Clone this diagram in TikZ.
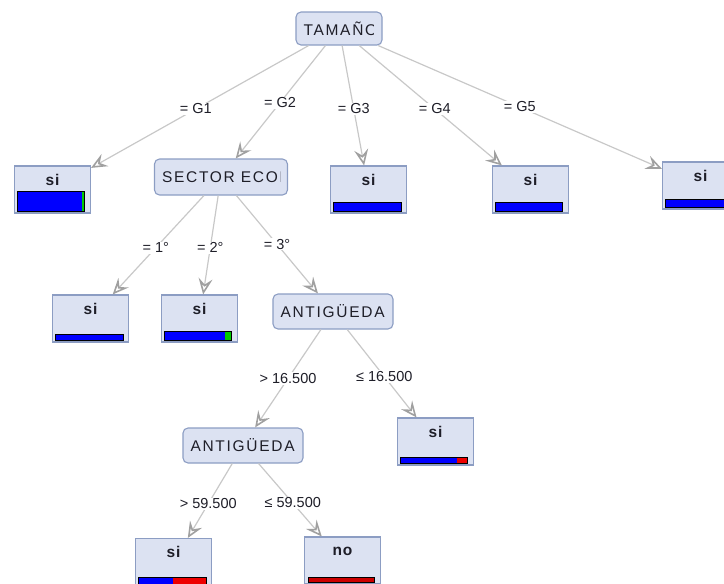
\documentclass[tikz,border=0pt]{standalone}
\usepackage{fontspec}
\setmainfont{Liberation Sans}
\newfontfamily\nfont[LetterSpace=11]{Liberation Sans}
\newfontfamily\lfont[LetterSpace=6]{Liberation Sans}
\usetikzlibrary{arrows.meta,calc}
\definecolor{boxfill}{HTML}{DCE2F2}
\definecolor{boxdraw}{HTML}{8C9DC3}
\definecolor{edgecol}{HTML}{C8C8C8}
\definecolor{arrowcol}{HTML}{A0A0A0}
\definecolor{textcol}{HTML}{1E1E28}
\definecolor{barblue}{HTML}{0000FF}
\definecolor{barred}{HTML}{EE0000}
\definecolor{bardred}{HTML}{CC0000}
\definecolor{bargreen}{HTML}{00CC00}
\newcommand\leafbar[4]{%
  \fill[barblue] ($(#1.south west)+(#2,-2)$) rectangle ($(#1.south west)+(#3,-2-#4)$);}
\newcommand\leafseg[5]{%
  \fill[#5] ($(#1.south west)+(#2,-2)$) rectangle ($(#1.south west)+(#3,-2-#4)$);}
\newcommand\leafframe[4]{%
  \draw[black, line width=0.9pt] ($(#1.south west)+(#2,-2)$) rectangle ($(#1.south west)+(#3,-2-#4)$);}
\begin{document}
\begin{tikzpicture}[x=1pt,y=-1pt,
  inner/.style n args={4}{draw=boxdraw, fill=boxfill, rounded corners=5pt, line width=1.1pt,
    minimum width=#1, minimum height=#2, inner sep=0pt,
    path picture={
      \clip ([xshift=-#4]path picture bounding box.north east) rectangle (path picture bounding box.south west);
      \node[anchor=west, inner sep=0pt, minimum width=0pt, minimum height=0pt, draw=none, fill=none,
        text=textcol, font=\nfont\fontsize{15.5}{17}\selectfont]
        at ([xshift=7pt]path picture bounding box.west) {#3};}},
  leaf/.style={draw=boxdraw, fill=boxfill, line width=1.1pt, minimum width=76pt, minimum height=47pt, inner sep=0pt},
  lt/.style={inner sep=0pt, text=textcol, font=\lfont\bfseries\fontsize{15.5}{17}\selectfont},
  edge/.style={draw=edgecol, line width=1.2pt,
    -{Stealth[open, length=16pt, width=14pt, inset=6pt, color=arrowcol, line width=1.6pt]}},
  lbl/.style={fill=white, inner sep=1pt, text=textcol, font=\fontsize{14.5}{16}\selectfont}]
\useasboundingbox (0,0) rectangle (724,584);
\clip (0,0) rectangle (724,584);

% inner nodes
\node[inner={86pt}{33pt}{TAMAÑO}{9pt}] (R) at (339,28.5) {};
\node[inner={133pt}{36pt}{SECTOR ECONOMICO}{7pt}] (S) at (221,177) {};
\node[inner={120pt}{35pt}{ANTIGÜEDA}{7pt}] (A1) at (333,311.5) {};
\node[inner={120pt}{35pt}{ANTIGÜEDA}{7pt}] (A2) at (243,445.5) {};

% leaves
\node[leaf] (L1) at (52.5,189.5) {};
\node[leaf] (L3) at (368.5,189.5) {};
\node[leaf] (L4) at (530.5,189.5) {};
\node[leaf] (L5) at (700.5,185.5) {};
\node[leaf] (M1) at (90.5,318.5) {};
\node[leaf] (M2) at (199.5,318.5) {};
\node[leaf] (N1) at (435.5,441.5) {};
\node[leaf] (P1) at (173.5,562) {};
\node[leaf] (P2) at (342.5,560.5) {};

% leaf texts
\foreach \n in {L1,L3,L4,L5,M1,M2,N1,P1} {\node[lt] at ($(\n.north)+(0,14.5)$) {si};}
\node[lt] at ($(P2.north)+(0,14.5)$) {no};

% bars
\leafbar{L1}{3}{70}{20}\leafseg{L1}{68}{70}{20}{bargreen}\leafframe{L1}{3}{70}{20}
\leafbar{L3}{3}{71}{9}\leafframe{L3}{3}{71}{9}
\leafbar{L4}{3}{70}{9}\leafframe{L4}{3}{70}{9}
\leafbar{L5}{3}{70}{8}\leafframe{L5}{3}{70}{8}
\leafbar{M1}{3}{71}{6}\leafframe{M1}{3}{71}{6}
\leafbar{M2}{3}{70}{9}\leafseg{M2}{64}{70}{9}{bargreen}\leafframe{M2}{3}{70}{9}
\leafbar{N1}{3}{70}{6}\leafseg{N1}{60}{70}{6}{barred}\leafframe{N1}{3}{70}{6}
\leafbar{P1}{3}{71}{7}\leafseg{P1}{38}{71}{7}{barred}\leafframe{P1}{3}{71}{7}
\leafseg{P2}{4}{70}{5}{bardred}\leafframe{P2}{4}{70}{5}

% edges
\foreach \a/\b in {R/L1,R/S,R/L3,R/L4,R/L5,S/M1,S/M2,S/A1,A1/A2,A1/N1,A2/P1,A2/P2}
  {\draw[edge] (\a) -- (\b);}

% labels
\path (R.center) -- (L1.center) node[lbl,pos=0.5] {= G1};
\path (R.center) -- (S.center) node[lbl,pos=0.5] {= G2};
\path (R.center) -- (L3.center) node[lbl,pos=0.5] {= G3};
\path (R.center) -- (L4.center) node[lbl,pos=0.5] {= G4};
\path (R.center) -- (L5.center) node[lbl,pos=0.5] {= G5};
\path (S.center) -- (M1.center) node[lbl,pos=0.5] {= 1°};
\path (S.center) -- (M2.center) node[lbl,pos=0.5] {= 2°};
\path (S.center) -- (A1.center) node[lbl,pos=0.5] {= 3°};
\path (A1.center) -- (A2.center) node[lbl,pos=0.5] {> 16.500};
\path (A1.center) -- (N1.center) node[lbl,pos=0.5] {≤ 16.500};
\path (A2.center) -- (P1.center) node[lbl,pos=0.5] {> 59.500};
\path (A2.center) -- (P2.center) node[lbl,pos=0.5] {≤ 59.500};
\end{tikzpicture}
\end{document}
